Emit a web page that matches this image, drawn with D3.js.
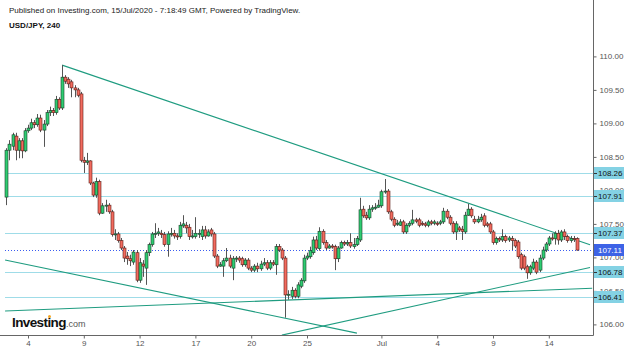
<!DOCTYPE html>
<html><head><meta charset="utf-8">
<script src="https://cdn.jsdelivr.net/npm/d3@7/dist/d3.min.js"></script>
<style>
html,body{margin:0;padding:0;background:#fff;}
svg{display:block;font-family:"Liberation Sans",Arial,sans-serif;}
</style></head>
<body>
<svg id="chart" width="625" height="350"></svg>
<script>
// OHLC candles (4h, USD/JPY), index = candle number
const candles = [
[107.90,108.63,107.78,108.60],[108.60,108.75,108.45,108.69],[108.66,108.86,108.60,108.83],[108.81,108.86,108.45,108.60],
[108.60,108.78,108.48,108.74],[108.74,108.78,108.48,108.59],[108.59,108.93,108.57,108.89],[108.89,108.98,108.86,108.93],
[108.93,109.07,108.90,109.01],[109.01,109.05,108.93,108.98],[108.98,109.14,108.95,109.08],[109.08,109.13,108.87,108.90],
[108.90,109.05,108.65,108.99],[108.99,109.20,108.96,109.16],[109.16,109.25,109.11,109.19],[109.19,109.23,109.11,109.16],
[109.16,109.41,109.13,109.36],[109.36,109.39,109.20,109.23],[109.23,109.87,109.20,109.69],[109.69,109.72,109.59,109.63],
[109.66,109.69,109.53,109.59],[109.62,109.65,109.39,109.53],[109.53,109.57,109.39,109.50],[109.50,109.53,109.39,109.42],
[109.44,109.47,108.42,108.45],[108.45,108.50,108.26,108.42],[108.42,108.56,108.38,108.44],[108.44,108.45,108.08,108.11],
[108.11,108.13,107.90,107.93],[107.93,108.19,107.89,108.13],[108.13,108.16,107.63,107.66],[107.66,107.81,107.65,107.77],
[107.77,107.86,107.68,107.78],[107.78,107.81,107.65,107.68],[107.68,107.71,107.31,107.34],[107.34,107.42,107.26,107.35],
[107.35,107.38,107.22,107.25],[107.25,107.29,107.11,107.14],[107.14,107.17,106.93,106.99],[107.02,107.08,106.89,106.98],
[106.98,107.04,106.87,106.95],[106.93,107.11,106.89,107.08],[107.07,107.11,106.63,106.66],[106.66,106.99,106.62,106.92],
[106.90,106.96,106.71,106.87],[106.84,107.11,106.59,107.07],[107.07,107.22,107.02,107.19],[107.19,107.38,107.16,107.35],
[107.35,107.51,107.29,107.36],[107.36,107.44,107.32,107.38],[107.36,107.41,107.29,107.34],[107.34,107.38,107.16,107.19],
[107.19,107.39,107.01,107.35],[107.35,107.44,107.31,107.36],[107.36,107.41,107.28,107.32],[107.32,107.36,107.26,107.31],
[107.31,107.53,107.28,107.48],[107.47,107.63,107.44,107.50],[107.48,107.53,107.36,107.44],[107.45,107.50,107.26,107.31],
[107.31,107.41,107.28,107.32],[107.31,107.60,107.28,107.36],[107.35,107.42,107.29,107.36],[107.31,107.47,107.26,107.41],
[107.41,107.47,107.28,107.32],[107.32,107.42,107.31,107.38],[107.41,107.44,107.31,107.35],[107.35,107.38,106.99,107.02],
[107.02,107.05,106.84,106.87],[106.87,106.93,106.86,106.89],[106.87,106.99,106.71,106.95],[106.95,107.14,106.93,106.99],
[106.99,107.04,106.84,106.87],[106.84,107.02,106.66,106.98],[106.98,107.02,106.93,106.99],[106.99,107.02,106.92,106.96],
[106.98,107.01,106.86,106.89],[106.89,106.99,106.86,106.96],[106.96,106.99,106.81,106.84],[106.84,106.87,106.78,106.81],
[106.81,106.90,106.78,106.87],[106.87,106.92,106.78,106.83],[106.83,106.95,106.80,106.90],[106.90,106.99,106.87,106.92],
[106.92,106.96,106.81,106.84],[106.84,106.96,106.81,106.92],[106.92,106.96,106.87,106.90],[106.89,107.20,106.74,107.16],
[107.16,107.20,107.08,107.11],[107.11,107.14,106.96,106.99],[106.99,107.02,106.10,106.44],[106.44,106.51,106.37,106.45],
[106.42,106.56,106.38,106.51],[106.51,106.54,106.39,106.42],[106.42,106.63,106.39,106.59],[106.57,106.69,106.54,106.66],
[106.65,107.04,106.62,106.99],[106.99,107.07,106.96,107.02],[107.01,107.16,106.98,107.10],[107.07,107.31,107.04,107.26],
[107.26,107.32,107.11,107.14],[107.13,107.45,107.10,107.39],[107.39,107.42,107.19,107.22],[107.22,107.26,107.11,107.14],
[107.14,107.20,107.13,107.17],[107.17,107.20,107.13,107.16],[107.16,107.19,106.81,106.98],[106.98,107.17,106.93,107.14],
[107.14,107.25,107.13,107.22],[107.22,107.25,107.17,107.20],[107.20,107.26,107.17,107.22],[107.22,107.36,107.14,107.17],
[107.16,107.29,107.13,107.19],[107.19,107.32,107.17,107.28],[107.26,107.89,107.23,107.71],[107.72,107.77,107.59,107.62],
[107.63,107.68,107.56,107.59],[107.59,107.78,107.56,107.72],[107.72,107.78,107.68,107.74],[107.74,107.81,107.71,107.75],
[107.75,107.86,107.74,107.78],[107.77,108.01,107.74,107.98],[107.98,108.17,107.95,107.99],[107.99,108.02,107.65,107.68],
[107.68,107.71,107.54,107.57],[107.57,107.60,107.45,107.48],[107.50,107.56,107.47,107.51],[107.48,107.57,107.47,107.53],
[107.53,107.56,107.35,107.38],[107.38,107.51,107.35,107.48],[107.48,107.54,107.45,107.51],[107.51,107.71,107.48,107.56],
[107.56,107.59,107.51,107.54],[107.56,107.59,107.45,107.48],[107.51,107.54,107.47,107.50],[107.50,107.53,107.45,107.48],
[107.48,107.56,107.45,107.53],[107.53,107.56,107.48,107.51],[107.51,107.56,107.48,107.53],[107.51,107.54,107.47,107.50],
[107.51,107.56,107.48,107.53],[107.53,107.74,107.50,107.69],[107.69,107.72,107.57,107.60],[107.60,107.63,107.48,107.51],
[107.51,107.54,107.35,107.38],[107.38,107.54,107.26,107.50],[107.44,107.47,107.38,107.41],[107.42,107.47,107.26,107.39],
[107.38,107.68,107.35,107.63],[107.63,107.80,107.62,107.72],[107.72,107.75,107.59,107.62],[107.57,107.62,107.50,107.53],
[107.53,107.62,107.51,107.57],[107.56,107.65,107.53,107.60],[107.62,107.66,107.45,107.48],[107.50,107.53,107.45,107.48],
[107.50,107.53,107.35,107.38],[107.38,107.41,107.19,107.22],[107.22,107.31,107.19,107.28],[107.28,107.31,107.23,107.26],
[107.26,107.42,107.23,107.31],[107.31,107.34,107.22,107.25],[107.26,107.32,107.23,107.29],[107.28,107.32,107.11,107.25],
[107.25,107.28,107.14,107.17],[107.23,107.26,106.98,107.01],[107.04,107.07,106.81,106.84],[107.01,107.04,106.81,106.84],
[106.86,106.89,106.68,106.77],[106.77,106.89,106.74,106.86],[106.84,106.98,106.81,106.93],[106.93,106.96,106.75,106.78],
[106.81,107.04,106.78,106.99],[106.99,107.16,106.96,107.11],[107.11,107.23,107.08,107.20],[107.20,107.32,107.17,107.29],
[107.29,107.36,107.25,107.28],[107.28,107.39,107.19,107.36],[107.36,107.41,107.19,107.26],[107.26,107.41,107.23,107.38],
[107.38,107.42,107.26,107.31],[107.31,107.34,107.22,107.25],[107.25,107.32,107.22,107.28],[107.28,107.32,107.23,107.27],
[107.28,107.30,107.10,107.11]
];
// x-axis tick labels at candle index
const xTickIdx = [7, 25, 43, 61, 79, 97, 121, 139, 157, 175];
const xTickLabels = ["4", "9", "12", "17", "20", "25", "Jul", "4", "9", "14"];
// right-axis price ticks
const yTicks = [106.0, 106.5, 107.0, 107.5, 108.0, 108.5, 109.0, 109.5, 110.0];
// horizontal levels
const levels = [108.26, 107.91, 107.37, 106.78, 106.41];
const lastPrice = 107.11;
// trend lines [idx, price] endpoints
const trendLines = [
  [[18, 109.87], [188.3, 107.19]],
  [[-0.4, 106.96], [113.1, 105.87]],
  [[88.9, 105.84], [188.3, 106.85]],
  [[-0.4, 106.20], [189.0, 106.54]]
];
const title = "Published on Investing.com, 15/Jul/2020 - 7:18:49 GMT, Powered by TradingView.";
const symbol = "USD/JPY, 240";

const svg = d3.select("#chart");
const plotRight = 593, plotBottom = 335;
const x = d3.scaleLinear().domain([0, 184]).range([6.3, 576.7]);
const y = d3.scaleLinear().domain([106, 110]).range([324.4, 56.4]);

const plot = svg.append("g");
plot.append("clipPath").attr("id","clip").append("rect").attr("x",0).attr("y",0).attr("width",plotRight).attr("height",plotBottom);
const g = plot.append("g").attr("clip-path","url(#clip)");

// horizontal levels
g.selectAll("line.lvl").data(levels).enter().append("line")
  .attr("x1",5).attr("x2",plotRight).attr("y1",d=>Math.round(y(d))+0.5).attr("y2",d=>Math.round(y(d))+0.5)
  .attr("stroke","#9fdce8").attr("stroke-width",1);
// last price dotted
g.append("line").attr("x1",5).attr("x2",plotRight)
  .attr("y1",Math.round(y(lastPrice))+0.5).attr("y2",Math.round(y(lastPrice))+0.5)
  .attr("stroke","#3b5cf0").attr("stroke-width",1).attr("stroke-dasharray","1,2");

// trend lines
g.selectAll("line.tr").data(trendLines).enter().append("line")
  .attr("x1",d=>x(d[0][0])).attr("y1",d=>y(d[0][1]))
  .attr("x2",d=>x(d[1][0])).attr("y2",d=>y(d[1][1]))
  .attr("stroke","#1f9c80").attr("stroke-width",1.1);

// candles
const cg = g.append("g");
candles.forEach((c,i)=>{
  const [o,h,l,cl] = c;
  const up = cl >= o;
  const cx = Math.round(x(i)) + 0.5;
  cg.append("line").attr("x1",cx).attr("x2",cx).attr("y1",y(h)).attr("y2",y(l))
    .attr("stroke","#555").attr("stroke-width",1);
  const top = y(Math.max(o,cl)), bot = y(Math.min(o,cl));
  cg.append("rect").attr("x",cx-1.5).attr("y",top).attr("width",3).attr("height",Math.max(1,bot-top))
    .attr("fill", up ? "#2ecc71" : "#f26b5f")
    .attr("stroke", up ? "#1b3d29" : "#5a1c16").attr("stroke-width",0.6);
});

// axes lines
svg.append("line").attr("x1",plotRight+0.5).attr("x2",plotRight+0.5).attr("y1",0).attr("y2",plotBottom+0.5)
  .attr("stroke","#666").attr("stroke-width",1);
svg.append("line").attr("x1",0).attr("x2",plotRight+0.5).attr("y1",plotBottom+0.5).attr("y2",plotBottom+0.5)
  .attr("stroke","#666").attr("stroke-width",1);

// right axis
const yAxis = d3.axisRight(y).tickValues(yTicks).tickFormat(d3.format(".2f")).tickSize(3).tickPadding(3);
const ya = svg.append("g").attr("transform",`translate(${plotRight+0.5},0)`).call(yAxis);
ya.select(".domain").remove();
ya.selectAll("text").attr("fill","#555").style("font-size","8px").style("font-family","Liberation Sans, Arial, sans-serif");
ya.selectAll("line").attr("stroke","#666");

// bottom axis
const xAxis = d3.axisBottom(x).tickValues(xTickIdx).tickFormat((d,i)=>xTickLabels[i]).tickSize(3).tickPadding(2);
const xa = svg.append("g").attr("transform",`translate(0,${plotBottom+0.5})`).call(xAxis);
xa.select(".domain").remove();
xa.selectAll("text").attr("fill","#555").style("font-size","8px").style("font-family","Liberation Sans, Arial, sans-serif");
xa.selectAll("line").attr("stroke","#666");

// price label boxes
const lab = svg.append("g");
levels.forEach(v=>{
  const yy = Math.round(y(v));
  lab.append("rect").attr("x",594).attr("y",yy-6).attr("width",30).attr("height",12).attr("fill","#84d2e4");
  lab.append("line").attr("x1",594).attr("x2",597).attr("y1",yy+0.5).attr("y2",yy+0.5).attr("stroke","#333");
  lab.append("text").attr("x",598).attr("y",yy+3).text(v.toFixed(2)).attr("fill","#111")
    .style("font-size","8px");
});
{
  const yy = Math.round(y(lastPrice));
  lab.append("rect").attr("x",594).attr("y",yy-6).attr("width",30).attr("height",12).attr("fill","#3d63e6");
  lab.append("text").attr("x",598).attr("y",yy+3).text(lastPrice.toFixed(2)).attr("fill","#fff")
    .style("font-size","8px");
}

// header
svg.append("text").attr("x",9).attr("y",13).text(title).attr("fill","#222").style("font-size","8px");
svg.append("text").attr("x",9).attr("y",28).text(symbol).attr("fill","#111").style("font-size","8px").style("font-weight","bold");

// logo
const logo = svg.append("text").attr("x",12).attr("y",327);
logo.append("tspan").text("Investing").attr("fill","#111").style("font-size","13.5px").style("font-weight","bold").style("letter-spacing","-0.6px");
logo.append("tspan").text(".com").attr("fill","#555").style("font-size","9px");
svg.append("circle").attr("cx",49.5).attr("cy",316.5).attr("r",1.5).attr("fill","#f5a623");
</script>
</body></html>
